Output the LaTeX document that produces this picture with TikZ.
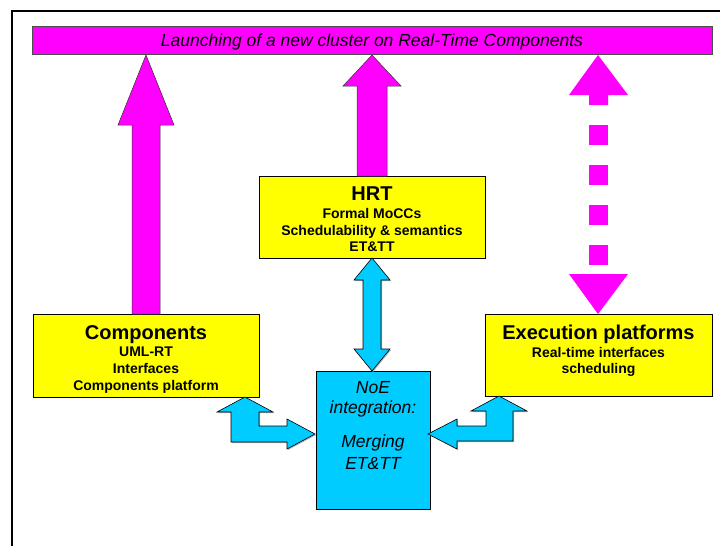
\documentclass[tikz,border=0pt]{standalone}
\usepackage{fontspec}
\setmainfont{Liberation Sans}
\usetikzlibrary{shadows}
\definecolor{mag}{RGB}{255,0,255}
\definecolor{ylw}{RGB}{255,255,0}
\definecolor{cyn}{RGB}{0,204,255}
\begin{document}
\begin{tikzpicture}[x=1pt,y=-1pt,
  ybox/.style={draw=black, line width=0.8pt, fill=ylw, inner sep=0pt, outer sep=0pt,
    drop shadow={shadow xshift=1.2pt, shadow yshift=-1.2pt, fill=gray!70, opacity=1}},
  cbox/.style={draw=black, line width=0.8pt, fill=cyn, inner sep=0pt, outer sep=0pt},
  magbar/.style={draw=gray!60!black, line width=0.6pt, fill=mag, inner sep=0pt, outer sep=0pt},
  magarrow/.style={draw=gray!40!black, line width=0.5pt, fill=mag},
  magdash/.style={fill=mag},
  cynarrow/.style={draw=black, line width=0.6pt, fill=cyn,
    drop shadow={shadow xshift=1pt, shadow yshift=-1pt, fill=gray!60, opacity=1}},
  title/.style={anchor=base, font=\bfseries\fontsize{20}{24}\selectfont},
  sub/.style={anchor=base, font=\bfseries\fontsize{14}{17}\selectfont},
  itl/.style={anchor=base, font=\itshape\fontsize{17.5}{21}\selectfont}]
\useasboundingbox (0,0) rectangle (720,546);
\fill[white] (0,0) rectangle (720,546);
% frame
\draw[line width=2pt] (12,548) -- (12,11) -- (722,11);

% banner
\node[magbar, minimum width=680pt, minimum height=28pt] (banner) at (372,40) {};
\node[itl] (bannerT) at (372,46) {Launching of a new cluster on Real-Time Components};

% boxes
\node[ybox, minimum width=226pt, minimum height=83pt] (comp) at (146,355.5) {};
\node[ybox, minimum width=226pt, minimum height=82pt] (hrt) at (372,217) {};
\node[ybox, minimum width=227pt, minimum height=82pt] (exec) at (598.5,355) {};
\node[cbox, minimum width=114pt, minimum height=138pt] (noe) at (373,440) {};

% magenta arrows
\draw[magarrow] (146,55) -- (174,125) -- (160,125) -- (160,314) -- (132,314) -- (132,125) -- (118,125) -- cycle;
\draw[magarrow] (372,55) -- (401,86) -- (387,86) -- (387,176) -- (357,176) -- (357,86) -- (343,86) -- cycle;
% dashed double arrow
\fill[magdash] (598,55) -- (628,95) -- (608,95) -- (608,105) -- (589,105) -- (589,95) -- (569,95) -- cycle;
\foreach \t in {125,165,205,245} \fill[magdash] (589,\t) rectangle (608,\t+20);
\fill[magdash] (569,274) -- (628,274) -- (598,314) -- cycle;

% cyan arrows
\draw[cynarrow] (372,258) -- (390,280) -- (381,280) -- (381,349) -- (390,349) -- (372,371) -- (354,349) -- (363,349) -- (363,280) -- (354,280) -- cycle;
\draw[cynarrow] (245,397) -- (273,412) -- (259,412) -- (259,426) -- (287,426) -- (287,419) -- (315,434) -- (287,449) -- (287,442) -- (231,442) -- (231,412) -- (217,412) -- cycle;
\draw[cynarrow] (499,396) -- (527,411) -- (513,411) -- (513,441) -- (457,441) -- (457,449) -- (428,434) -- (457,419) -- (457,426) -- (486,426) -- (486,411) -- (471,411) -- cycle;

% texts
\node[title] (compT) at (146,339) {Components};
\node[sub] (compA) at (146,356) {UML-RT};
\node[sub] (compB) at (146,373) {Interfaces};
\node[sub] (compC) at (146,390) {Components platform};

\node[title] (hrtT) at (372,200) {HRT};
\node[sub] (hrtA) at (372,218) {Formal MoCCs};
\node[sub] (hrtB) at (372,235) {Schedulability \& semantics};
\node[sub] (hrtC) at (372,251) {ET\&TT};

\node[title] (execT) at (598.5,339) {Execution platforms};
\node[sub] (execA) at (598.5,357) {Real-time interfaces};
\node[sub] (execB) at (598.5,373) {scheduling};

\node[itl] (noeA) at (373,393) {NoE};
\node[itl] (noeB) at (373,413) {integration:};
\node[itl] (noeC) at (373,447) {Merging};
\node[itl] (noeD) at (373,469) {ET\&TT};
\end{tikzpicture}
\end{document}
